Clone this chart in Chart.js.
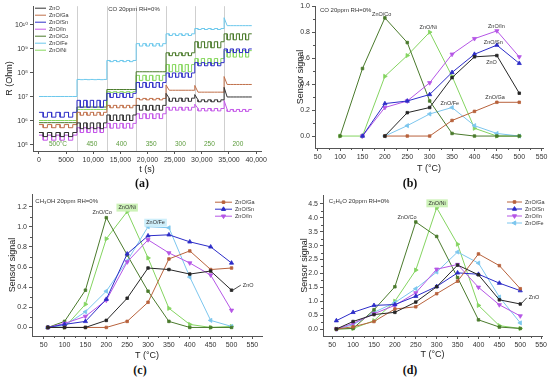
<!DOCTYPE html>
<html>
<head>
<meta charset="utf-8">
<script src="https://cdn.jsdelivr.net/npm/chart.js@4.4.1/dist/chart.umd.min.js"></script>
<style>
  body { margin: 0; background: #fff; width: 550px; height: 377px; position: relative; overflow: hidden; }
  canvas { position: absolute; }
  .panel-label { position: absolute; font: bold 12px "Liberation Serif", "DejaVu Serif", serif; color: #111; transform: translate(-50%, -50%); }
</style>
</head>
<body>
<canvas id="chart-a" width="275" height="175" style="left:0;top:0"></canvas>
<canvas id="chart-b" width="275" height="174" style="left:275px;top:0"></canvas>
<canvas id="chart-c" width="275" height="173" style="left:0;top:188px"></canvas>
<canvas id="chart-d" width="275" height="172" style="left:275px;top:188px"></canvas>
<div class="panel-label" style="left:142px;top:183px">(a)</div>
<div class="panel-label" style="left:410px;top:183px">(b)</div>
<div class="panel-label" style="left:140px;top:370px">(c)</div>
<div class="panel-label" style="left:410px;top:370px">(d)</div>
<script>
// ---------- series ----------
const seriesNames = ["ZnO", "ZnO/Ga", "ZnO/Sn", "ZnO/In", "ZnO/Co", "ZnO/Fe", "ZnO/Ni"];
const seriesColors = ["#262626", "#b8623c", "#2c2cc8", "#b556e6", "#4a7a2c", "#7cc6ee", "#84d460"];
const traceColors = ["#333333", "#c0704a", "#3030c8", "#c458e8", "#4a7a2a", "#6cc8ec", "#88d860"];
const seriesMarkers = ["rect", "rect", "triangle", "triangle", "rect", "triangle", "triangle"];
const seriesRotation = [0, 0, 0, 180, 0, 270, 90];

// ---------- (a) resistance transients, CO 20 ppm; log10(R / Ohm) per temperature step ----------
const stepTemps = ["500°C", "450", "400", "350", "300", "250", "200"];
const stepBounds = [0, 7000, 12500, 17900, 23400, 28700, 34100, 39200];
const pulsesPerStep = 4;

const rZnO_air  = [5.52, 5.92, 6.25, 6.65, 6.95, 6.88, 7.0];
const rZnO_gas  = [5.35, 5.68, 6.02, 6.45, 6.82, 6.8, 7.0];
const rZnO_peak = [null, null, null, null, 7.15, 7.1, 7.4];
const rGa_air   = [5.85, 6.36, 6.65, 6.94, 7.28, 7.2, 7.52];
const rGa_gas   = [5.72, 6.24, 6.55, 6.88, 7.28, 7.2, 7.52];
const rGa_peak  = [null, null, null, null, 7.5, 7.48, 7.85];
const rSn_air   = [6.36, 6.86, 7.15, 7.6, 8.0, 8.43, 9.0];
const rSn_gas   = [6.16, 6.57, 6.98, 7.4, 7.82, 8.3, 8.85];
const rIn_air   = [5.41, 5.72, 5.9, 6.3, 6.57, 6.52, 6.48];
const rIn_gas   = [5.2, 5.52, 5.7, 6.1, 6.45, 6.42, 6.4];
const rIn_peak  = [null, null, null, null, null, 6.7, 6.85];
const rCo_air   = [5.93, 6.58, 7.31, 8.05, 8.84, 9.3, 9.63];
const rCo_gas   = [5.93, 6.58, 7.31, 8.05, 8.72, 9.05, 9.38];
const rFe_air   = [7.02, 7.73, 8.52, 9.22, 9.63, 9.85, 9.97];
const rFe_gas   = [7.02, 7.72, 8.47, 9.12, 9.56, 9.81, 9.97];
const rFe_peak  = [null, null, null, null, null, null, 10.3];
const rNi_air   = [6.02, 6.48, 7.22, 7.9, 8.35, 8.6, 8.93];
const rNi_gas   = [6.02, 6.48, 7.19, 7.69, 8.05, 8.39, 8.66];
const noPeak    = [null, null, null, null, null, null, null];

const timeTicks = [0, 5000, 10000, 15000, 20000, 25000, 30000, 35000, 40000];
const timeTickLabels = ["0", "5000", "10,000", "15,000", "20,000", "25,000", "30,000", "35,000", "40,000"];
const decadeTicks = [5, 6, 7, 8, 9, 10];

// ---------- (b) sensor signal, CO 20 ppm ----------
const tempsB = [100, 150, 200, 250, 300, 350, 400, 450, 500];
const coZnO = [null, null, 0, 0.18, 0.22, 0.45, 0.61, 0.62, 0.33];
const coGa  = [null, null, 0, 0, 0, 0.12, 0.19, 0.26, 0.26];
const coSn  = [null, 0, 0.25, 0.27, 0.32, 0.49, 0.63, 0.70, 0.56];
const coIn  = [null, 0, 0.22, 0.27, 0.41, 0.63, 0.75, 0.81, 0.61];
const coCo  = [0, 0.52, 0.91, 0.72, 0.27, 0.02, 0, 0, 0];
const coFe  = [null, null, 0, 0.08, 0.17, 0.22, 0.08, 0.02, 0];
const coNi  = [0, 0, 0.46, 0.62, 0.80, 0.46, 0.06, 0, 0];

// ---------- (c) sensor signal, CH3OH 20 ppm ----------
const tempsCD = [60, 100, 150, 200, 250, 300, 350, 400, 450, 500];
const meZnO = [0, 0, 0, 0.07, 0.29, 0.59, 0.575, 0.53, 0.56, 0.37];
const meGa  = [0, 0, 0, 0, 0.06, 0.25, 0.68, 0.76, 0.575, 0.59];
const meSn  = [0, 0.03, 0.06, 0.28, 0.73, 0.91, 0.92, 0.85, 0.80, 0.64];
const meIn  = [0, 0.04, 0.11, 0.27, 0.65, 0.87, 0.74, 0.64, 0.52, 0.17];
const meCo  = [0, 0.06, 0.37, 1.09, 0.72, 0.36, 0.06, 0, 0, 0];
const meFe  = [0, 0.02, 0.155, 0.36, 0.66, 1.0, 0.99, 0.5, 0.07, 0.01];
const meNi  = [0, 0, 0.23, 0.88, 1.15, 0.69, 0.19, 0.03, 0, 0.01];

// ---------- (d) sensor signal, C2H6O 20 ppm ----------
const etZnO = [0, 0.27, 0.52, 0.6, 0.97, 1.52, 2.3, 1.95, 1.05, 0.9];
const etGa  = [0, 0.08, 0.27, 0.72, 0.8, 1.27, 1.72, 2.7, 2.28, 1.45];
const etSn  = [0.3, 0.6, 0.85, 0.88, 1.18, 1.53, 2.02, 1.97, 1.65, 1.38];
const etIn  = [0, 0.2, 0.55, 0.85, 1.3, 2.15, 2.32, 1.5, 0.87, 0.47];
const etCo  = [0, 0.02, 0.69, 1.52, 3.85, 3.33, 1.85, 0.33, 0.07, 0.02];
const etFe  = [0, 0.15, 0.6, 0.95, 1.45, 2.05, 2.77, 2.37, 1.15, 0.22];
const etNi  = [0, 0.02, 0.3, 1.0, 2.12, 4.36, 3.05, 0.85, 0.12, 0.02];

const tempTicks = [50, 100, 150, 200, 250, 300, 350, 400, 450, 500, 550];
const signalTicksB = [0, 0.2, 0.4, 0.6, 0.8, 1.0];
const signalTicksC = [0, 0.2, 0.4, 0.6, 0.8, 1.0, 1.2];
const signalTicksD = [0, 0.5, 1.0, 1.5, 2.0, 2.5, 3.0, 3.5, 4.0, 4.5];

// ---------- helpers ----------
Chart.defaults.font.family = '"Liberation Sans", "DejaVu Sans", Arial, sans-serif';
Chart.defaults.color = "#333";
const axisColor = "#555";
const fontStack = '"Liberation Sans", "DejaVu Sans", sans-serif';

const supDigits = { "0": "⁰", "1": "¹", "2": "²", "3": "³", "4": "⁴", "5": "⁵", "6": "⁶", "7": "⁷", "8": "⁸", "9": "⁹" };
function decadeLabel(v) {
    const e = String(Math.round(Math.log10(v)));
    return "10" + e.split("").map((c) => supDigits[c]).join("");
}

// square-wave trace: air level, gas pulses, optional overshoot at the start of a step
function stepTrace(air, gas, peak) {
    const pts = [];
    for (let s = 0; s < air.length; s++) {
        const t0 = stepBounds[s];
        const t1 = stepBounds[s + 1];
        const phase = (t1 - t0) / (pulsesPerStep * 2 + 1);
        const a = 10 ** air[s];
        const g = 10 ** gas[s];
        pts.push({ x: t0, y: 10 ** (peak[s] ?? air[s]) });
        for (let k = 0; k < pulsesPerStep; k++) {
            const on = t0 + (2 * k + 1) * phase;
            const off = on + phase;
            pts.push({ x: on, y: a }, { x: on, y: g }, { x: off, y: g }, { x: off, y: a });
        }
        pts.push({ x: t1, y: a });
    }
    return pts;
}

function pairs(xs, ys) {
    return xs.map((x, i) => ({ x: x, y: ys[i] }));
}

function fixedTicks(values) {
    return (axis) => {
        axis.ticks = values.map((v) => ({ value: v }));
    };
}

function xAxis(min, max, ticks, labels, height, title) {
    return {
        type: "linear",
        min: min,
        max: max,
        afterBuildTicks: fixedTicks(ticks),
        afterFit: (s) => { s.height = height; },
        grid: { drawOnChartArea: false, drawTicks: true, tickLength: 3, color: axisColor },
        border: { display: true, color: axisColor, width: 1 },
        ticks: {
            callback: (v, i) => labels[i],
            font: { size: 7 },
            color: "#333",
            padding: 2,
            maxRotation: 0,
            autoSkip: false,
        },
        title: { display: true, text: title, font: { size: 9 }, color: "#222", padding: { top: 0, bottom: 0 } },
    };
}

function yAxis(min, max, ticks, width, titlePad) {
    return {
        type: "linear",
        min: min,
        max: max,
        afterBuildTicks: fixedTicks(ticks),
        afterFit: (s) => { s.width = width; },
        grid: { drawOnChartArea: false, drawTicks: true, tickLength: 3, color: axisColor },
        border: { display: true, color: axisColor, width: 1 },
        ticks: { callback: (v) => v.toFixed(1), font: { size: 7 }, color: "#333", padding: 2, autoSkip: false },
        title: { display: true, text: "Sensor signal", font: { size: 9 }, color: "#222", padding: { top: titlePad, bottom: 0 } },
    };
}

function signalDataset(i, xs, ys) {
    return {
        label: seriesNames[i],
        data: pairs(xs, ys),
        borderColor: seriesColors[i],
        backgroundColor: seriesColors[i],
        borderWidth: 1,
        pointStyle: seriesMarkers[i],
        pointRotation: seriesRotation[i],
        pointRadius: seriesMarkers[i] === "triangle" ? 2.4 : 1.8,
        pointBorderWidth: 0.8,
        tension: 0,
    };
}

// short unlabelled ticks halfway between the labelled ones
function minorTicksPlugin(xTicks, yTicks) {
    const mids = (arr) => arr.slice(1).map((v, i) => (v + arr[i]) / 2);
    return {
        id: "minorTicks",
        afterDraw(chart) {
            const { ctx, chartArea, scales } = chart;
            ctx.save();
            ctx.strokeStyle = axisColor;
            ctx.lineWidth = 1;
            ctx.beginPath();
            mids(xTicks).forEach((v) => {
                const px = Math.round(scales.x.getPixelForValue(v)) + 0.5;
                ctx.moveTo(px, chartArea.bottom);
                ctx.lineTo(px, chartArea.bottom + 2);
            });
            mids(yTicks).forEach((v) => {
                const py = Math.round(scales.y.getPixelForValue(v)) + 0.5;
                ctx.moveTo(chartArea.left, py);
                ctx.lineTo(chartArea.left - 2, py);
            });
            ctx.stroke();
            ctx.restore();
        },
    };
}

function notesPlugin(notes) {
    return {
        id: "notes",
        afterDatasetsDraw(chart) {
            const { ctx, scales } = chart;
            ctx.save();
            notes.forEach((n) => {
                const px = scales.x.getPixelForValue(n.x);
                const py = scales.y.getPixelForValue(n.y);
                ctx.font = (n.size || 5.5) + "px " + fontStack;
                ctx.textAlign = n.align || "center";
                ctx.textBaseline = "middle";
                if (n.lead) {
                    ctx.strokeStyle = "#222";
                    ctx.lineWidth = 0.8;
                    ctx.beginPath();
                    ctx.moveTo(scales.x.getPixelForValue(n.lead[0]), scales.y.getPixelForValue(n.lead[1]));
                    ctx.lineTo(px - 2, py);
                    ctx.stroke();
                }
                if (n.bg) {
                    const w = ctx.measureText(n.text).width;
                    const left = ctx.textAlign === "left" ? px : px - w / 2;
                    ctx.fillStyle = n.bg;
                    ctx.fillRect(left - 2, py - 4, w + 4, 8);
                }
                ctx.fillStyle = n.color || "#333";
                ctx.fillText(n.text, px, py);
            });
            ctx.restore();
        },
    };
}

// legend drawn inside the plot frame, offsets from the chart area corner
function innerLegendPlugin(indices, dx, dy, step, sample, withMarker) {
    return {
        id: "innerLegend",
        afterDraw(chart) {
            const { ctx, chartArea } = chart;
            ctx.save();
            ctx.font = "5.5px " + fontStack;
            ctx.textBaseline = "middle";
            ctx.textAlign = "left";
            indices.forEach((dsIndex, row) => {
                const ds = chart.data.datasets[dsIndex];
                const x0 = chartArea.left + dx;
                const y0 = chartArea.top + dy + row * step;
                ctx.strokeStyle = ds.borderColor;
                ctx.lineWidth = 1;
                ctx.beginPath();
                ctx.moveTo(x0, y0);
                ctx.lineTo(x0 + sample, y0);
                ctx.stroke();
                if (withMarker) {
                    ctx.fillStyle = ds.borderColor;
                    Chart.helpers.drawPoint(ctx, {
                        pointStyle: ds.pointStyle,
                        rotation: ds.pointRotation,
                        radius: ds.pointRadius,
                        borderWidth: 0.8,
                    }, x0 + sample / 2, y0);
                }
                ctx.fillStyle = "#333";
                ctx.fillText(ds.label, x0 + sample + 3, y0);
            });
            ctx.restore();
        },
    };
}

const stepPlugin = {
    id: "steps",
    beforeDatasetsDraw(chart) {
        const { ctx, chartArea, scales } = chart;
        ctx.save();
        ctx.strokeStyle = "#cfcfcf";
        ctx.lineWidth = 1;
        stepBounds.slice(1, -1).forEach((t) => {
            const px = Math.round(scales.x.getPixelForValue(t)) + 0.5;
            ctx.beginPath();
            ctx.moveTo(px, chartArea.top);
            ctx.lineTo(px, chartArea.bottom);
            ctx.stroke();
        });
        ctx.restore();
    },
    afterDatasetsDraw(chart) {
        const { ctx, chartArea, scales } = chart;
        ctx.save();
        ctx.fillStyle = "#5c9c3c";
        ctx.font = "6.5px " + fontStack;
        ctx.textAlign = "center";
        ctx.textBaseline = "middle";
        stepTemps.forEach((txt, i) => {
            const px = scales.x.getPixelForValue((stepBounds[i] + stepBounds[i + 1]) / 2);
            ctx.fillText(txt, px, chartArea.bottom - 7);
        });
        ctx.font = "6px " + fontStack;
        ctx.fillStyle = "#333";
        ctx.fillText("CO 20ppm RH=0%", 134, 9);
        ctx.restore();
    },
};

const baseOptions = {
    responsive: false,
    animation: false,
    events: [],
};

// ---------- (a) ----------
const rAir = [rZnO_air, rGa_air, rSn_air, rIn_air, rCo_air, rFe_air, rNi_air];
const rGas = [rZnO_gas, rGa_gas, rSn_gas, rIn_gas, rCo_gas, rFe_gas, rNi_gas];
const rPeak = [rZnO_peak, rGa_peak, noPeak, rIn_peak, noPeak, rFe_peak, noPeak];

new Chart(document.getElementById("chart-a"), {
    type: "line",
    data: {
        datasets: seriesNames.map((name, i) => ({
            label: name,
            data: stepTrace(rAir[i], rGas[i], rPeak[i]),
            borderColor: traceColors[i],
            borderWidth: 1,
            pointRadius: 0,
            tension: 0,
        })),
    },
    options: {
        ...baseOptions,
        layout: { padding: { left: 0, top: 5, right: 14, bottom: 0 } },
        plugins: { legend: { display: false }, tooltip: { enabled: false } },
        scales: {
            x: xAxis(-1100, 40900, timeTicks, timeTickLabels, 24, "t (s)"),
            y: {
                type: "logarithmic",
                min: 10 ** 4.75,
                max: 10 ** 10.78,
                afterBuildTicks: fixedTicks(decadeTicks.map((e) => 10 ** e)),
                afterFit: (s) => { s.width = 33; },
                grid: { drawOnChartArea: false, drawTicks: true, tickLength: 3, color: axisColor },
                border: { display: true, color: axisColor, width: 1 },
                ticks: { callback: (v) => decadeLabel(v), font: { size: 7 }, color: "#333", padding: 2, autoSkip: false },
                title: { display: true, text: "R (Ohm)", font: { size: 9 }, color: "#222", padding: { top: 4, bottom: 0 } },
            },
        },
    },
    plugins: [stepPlugin, innerLegendPlugin([0, 1, 2, 3, 4, 5, 6], 2, 2, 7, 11, false)],
});

// ---------- (b) ----------
const coSeries = [coZnO, coGa, coSn, coIn, coCo, coFe, coNi];
new Chart(document.getElementById("chart-b"), {
    type: "line",
    data: { datasets: coSeries.map((ys, i) => signalDataset(i, tempsB, ys)) },
    options: {
        ...baseOptions,
        layout: { padding: { left: 20, top: 6, right: 7, bottom: 0 } },
        plugins: { legend: { display: false }, tooltip: { enabled: false } },
        scales: {
            x: xAxis(44, 553, tempTicks, tempTicks.map(String), 26, "T (°C)"),
            y: yAxis(-0.092, 1.0, signalTicksB, 20, 0),
        },
    },
    plugins: [
        minorTicksPlugin(tempTicks, signalTicksB),
        notesPlugin([
            { x: 55, y: 0.97, text: "CO 20ppm RH=0%", align: "left", size: 6 },
            { x: 193, y: 0.94, text: "ZnO/Co" },
            { x: 297, y: 0.833, text: "ZnO/Ni" },
            { x: 449, y: 0.84, text: "ZnO/In" },
            { x: 442, y: 0.72, text: "ZnO/Sn" },
            { x: 438, y: 0.57, text: "ZnO" },
            { x: 345, y: 0.25, text: "ZnO/Fe" },
            { x: 446, y: 0.295, text: "ZnO/Ga" },
        ]),
    ],
});

// ---------- (c) ----------
const meSeries = [meZnO, meGa, meSn, meIn, meCo, meFe, meNi];
new Chart(document.getElementById("chart-c"), {
    type: "line",
    data: { datasets: meSeries.map((ys, i) => signalDataset(i, tempsCD, ys)) },
    options: {
        ...baseOptions,
        layout: { padding: { left: 7, top: 3, right: 13, bottom: 0 } },
        plugins: { legend: { display: false }, tooltip: { enabled: false } },
        scales: {
            x: xAxis(22, 573, tempTicks, tempTicks.map(String), 25, "T (°C)"),
            y: yAxis(-0.085, 1.323, signalTicksC, 25, 0),
        },
    },
    plugins: [
        minorTicksPlugin(tempTicks, signalTicksC),
        notesPlugin([
            { x: 30, y: 1.256, text: "CH₃OH 20ppm RH=0%", align: "left", size: 6 },
            { x: 190, y: 1.14, text: "ZnO/Co" },
            { x: 250, y: 1.19, text: "ZnO/Ni", bg: "#cdf2b8" },
            { x: 318, y: 1.04, text: "ZnO/Fe", bg: "#cdeefa" },
            { x: 527, y: 0.42, text: "ZnO", align: "left", lead: [503, 0.37] },
        ]),
        innerLegendPlugin([1, 2, 3], 183, 8, 7, 17, true),
    ],
});

// ---------- (d) ----------
const etSeries = [etZnO, etGa, etSn, etIn, etCo, etFe, etNi];
new Chart(document.getElementById("chart-d"), {
    type: "line",
    data: { datasets: etSeries.map((ys, i) => signalDataset(i, tempsCD, ys)) },
    options: {
        ...baseOptions,
        layout: { padding: { left: 24, top: 7, right: 8, bottom: 0 } },
        plugins: { legend: { display: false }, tooltip: { enabled: false } },
        scales: {
            x: xAxis(28, 552, tempTicks, tempTicks.map(String), 24, "T (°C)"),
            y: yAxis(-0.251, 4.82, signalTicksD, 24, 0),
        },
    },
    plugins: [
        minorTicksPlugin(tempTicks, signalTicksD),
        notesPlugin([
            { x: 42, y: 4.58, text: "C₂H₆O 20ppm RH=0%", align: "left", size: 6 },
            { x: 229, y: 4.0, text: "ZnO/Co" },
            { x: 301, y: 4.52, text: "ZnO/Ni", bg: "#cdf2b8" },
            { x: 520, y: 1.12, text: "ZnO", align: "left", lead: [503, 0.92] },
        ]),
        innerLegendPlugin([1, 2, 3, 5], 184, 7, 7, 15, true),
    ],
});
</script>
</body>
</html>
